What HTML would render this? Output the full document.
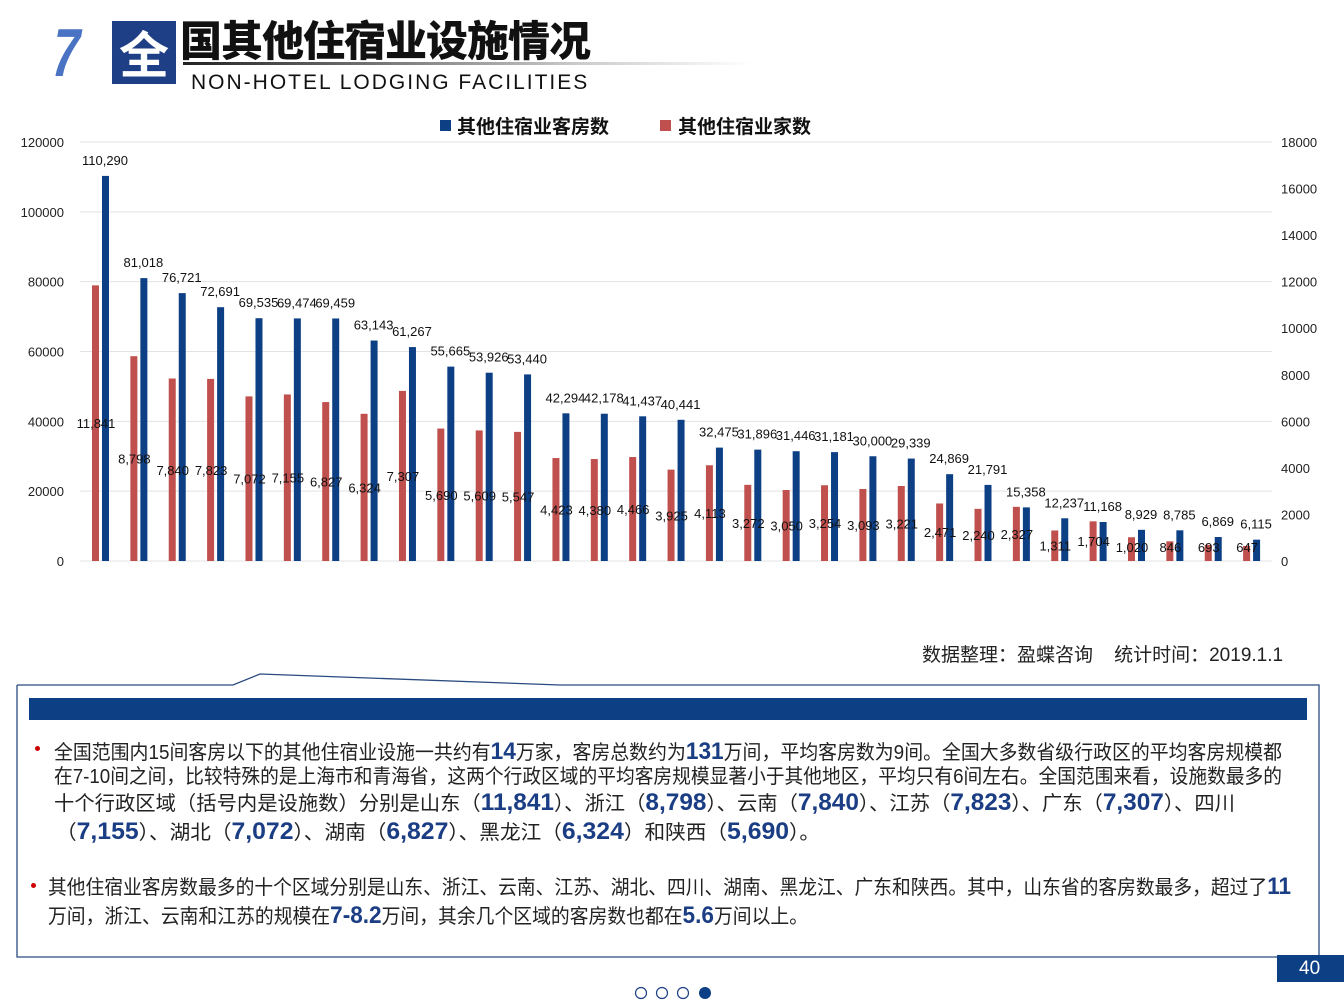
<!DOCTYPE html>
<html><head><meta charset="utf-8">
<style>
body{margin:0;width:1344px;height:1008px;background:#fff;position:relative;overflow:hidden;font-family:"Liberation Sans","Noto Sans CJK SC",sans-serif;}
.abs{position:absolute;}
.ln{position:absolute;white-space:nowrap;font-size:20px;color:#222;transform-origin:0 50%;line-height:28px;}
.ln b{color:#1a3d84;font-size:24px;font-weight:bold;}
</style></head><body>
<div class="abs" style="left:46px;top:18px;font-size:68px;font-weight:bold;color:#4a73c4;line-height:70px;transform:skewX(-10deg) scaleX(0.75);transform-origin:0 100%;">7</div>
<div class="abs" style="left:112px;top:21px;width:64px;height:63px;background:#1e3f86;color:#fff;font-size:50px;font-weight:bold;text-align:center;line-height:63px;font-family:'Noto Sans CJK SC',sans-serif;">全</div>
<div class="abs" style="left:180px;top:12px;font-size:42px;font-weight:900;color:#111;line-height:54px;font-family:'Noto Sans CJK SC',sans-serif;letter-spacing:-1px;">国其他住宿业设施情况</div>
<div class="abs" style="left:183px;top:62px;width:570px;height:3px;background:linear-gradient(90deg,#222,#ccc 70%,#fff);"></div>
<div class="abs" style="left:191px;top:71px;font-size:21px;letter-spacing:2px;color:#111;">NON-HOTEL LODGING FACILITIES</div>

<svg class="abs" style="left:0;top:0" width="1344" height="600" id="chart"></svg>

<div class="abs" style="left:922px;top:640px;font-size:19px;color:#222;">数据整理：盈蝶咨询 &nbsp;&nbsp; 统计时间：2019.1.1</div>

<svg class="abs" style="left:0;top:670px" width="1344" height="300">
<polyline points="17,15 233,15 260,4 560,15 1319,15 1319,287 17,287 17,15" fill="none" stroke="#2a4a80" stroke-width="1.3"/>
<rect x="29" y="28" width="1278" height="22" fill="#0d3f85"/>
</svg>

<div class="abs" style="left:35px;top:746px;width:5px;height:5px;border-radius:50%;background:#c00;"></div>
<div class="abs" style="left:31px;top:883px;width:5px;height:5px;border-radius:50%;background:#c00;"></div>
<div class="ln" data-w="1228" style="left:54px;top:738px">全国范围内15间客房以下的其他住宿业设施一共约有<b>14</b>万家，客房总数约为<b>131</b>万间，平均客房数为9间。全国大多数省级行政区的平均客房规模都</div>
<div class="ln" data-w="1228" style="left:54px;top:763px">在7-10间之间，比较特殊的是上海市和青海省，这两个行政区域的平均客房规模显著小于其他地区，平均只有6间左右。全国范围来看，设施数最多的</div>
<div class="ln" data-w="1181" style="left:54px;top:789px">十个行政区域（括号内是设施数）分别是山东（<b>11,841</b>）、浙江（<b>8,798</b>）、云南（<b>7,840</b>）、江苏（<b>7,823</b>）、广东（<b>7,307</b>）、四川</div>
<div class="ln" data-w="764" style="left:56px;top:818px">（<b>7,155</b>）、湖北（<b>7,072</b>）、湖南（<b>6,827</b>）、黑龙江（<b>6,324</b>）和陕西（<b>5,690</b>）。</div>
<div class="ln" data-w="1243" style="left:48px;top:873px">其他住宿业客房数最多的十个区域分别是山东、浙江、云南、江苏、湖北、四川、湖南、黑龙江、广东和陕西。其中，山东省的客房数最多，超过了<b>11</b></div>
<div class="ln" data-w="760" style="left:48px;top:902px">万间，浙江、云南和江苏的规模在<b>7-8.2</b>万间，其余几个区域的客房数也都在<b>5.6</b>万间以上。</div>

<div class="abs" style="left:1277px;top:955px;width:67px;height:27px;background:#0d3f85;color:#fff;font-size:19px;line-height:27px;padding-left:22px;box-sizing:border-box;">40</div>
<svg class="abs" style="left:630px;top:985px" width="90" height="16">
<circle cx="11" cy="8" r="5.5" fill="#fff" stroke="#1e3f86" stroke-width="1.2"/>
<circle cx="32" cy="8" r="5.5" fill="#fff" stroke="#1e3f86" stroke-width="1.2"/>
<circle cx="53" cy="8" r="5.5" fill="#fff" stroke="#1e3f86" stroke-width="1.2"/>
<circle cx="75" cy="8" r="6" fill="#0d3f85"/>
</svg>

<script>
const rooms=[110290,81018,76721,72691,69535,69474,69459,63143,61267,55665,53926,53440,42294,42178,41437,40441,32475,31896,31446,31181,30000,29339,24869,21791,15358,12237,11168,8929,8785,6869,6115];
const facilities=[11841,8798,7840,7823,7072,7155,6827,6324,7307,5690,5609,5547,4423,4380,4466,3925,4113,3272,3050,3254,3093,3221,2471,2240,2327,1311,1704,1020,846,693,647];
const leftTicks=[0,20000,40000,60000,80000,100000,120000];
const rightTicks=[0,2000,4000,6000,8000,10000,12000,14000,16000,18000];
const NS='http://www.w3.org/2000/svg';
const svg=document.getElementById('chart');
const y0=561,yTop=142;
const yL=v=>y0-v/120000*(y0-yTop);
const yR=v=>y0-v/18000*(y0-yTop);
const xG=i=>101+i*38.37;
function mk(t,a,txt){const e=document.createElementNS(NS,t);for(const k in a)e.setAttribute(k,a[k]);if(txt!==undefined)e.textContent=txt;svg.appendChild(e);return e;}
const fmt=v=>v.toLocaleString('en-US');
leftTicks.forEach(t=>{
 const g=mk('line',{x1:80,x2:1272,y1:yL(t),y2:yL(t),stroke:'#e3e3e3','stroke-width':1});
 
 
 const l=mk('text',{x:64,y:yL(t)+5,'text-anchor':'end','font-size':13,fill:'#222'},String(t));
 
 
});
rightTicks.forEach(t=>{
 const l=mk('text',{x:1281,y:yR(t)+5,'font-size':13,fill:'#222'},String(t));
 
 
});
rooms.forEach((v,i)=>{
 const cx=xG(i);
 const f=facilities[i];
 const r=mk('rect',{x:cx-9,y:yR(f),width:7,height:y0-yR(f),fill:'#c0504d'});
 
 
 const b=mk('rect',{x:cx+1,y:yL(v),width:7,height:y0-yL(v),fill:'#0d3f85'});
 
 
 const bl=mk('text',{x:cx+4,y:yL(v)-11,'text-anchor':'middle','font-size':13,fill:'#111'},fmt(v));
 
 
 const ly=Math.min((yR(f)+y0)/2+5,552);
 const rl=mk('text',{x:cx-5,y:ly,'text-anchor':'middle','font-size':13,fill:'#111'},fmt(f));
 
 
});
const lg1=mk('rect',{x:440,y:120,width:11,height:11,fill:'#0d3f85'});


const lt1=mk('text',{x:457,y:133,'font-size':19,'font-weight':'bold',fill:'#111'},'其他住宿业客房数');


const lg2=mk('rect',{x:660,y:120,width:11,height:11,fill:'#c0504d'});


const lt2=mk('text',{x:678,y:133,'font-size':19,'font-weight':'bold',fill:'#111'},'其他住宿业家数');


document.querySelectorAll('.ln').forEach(el=>{
 const w=+el.dataset.w;const s=w/el.getBoundingClientRect().width;
 el.style.transform='scaleX('+s+')';
});
</script>
</body></html>
